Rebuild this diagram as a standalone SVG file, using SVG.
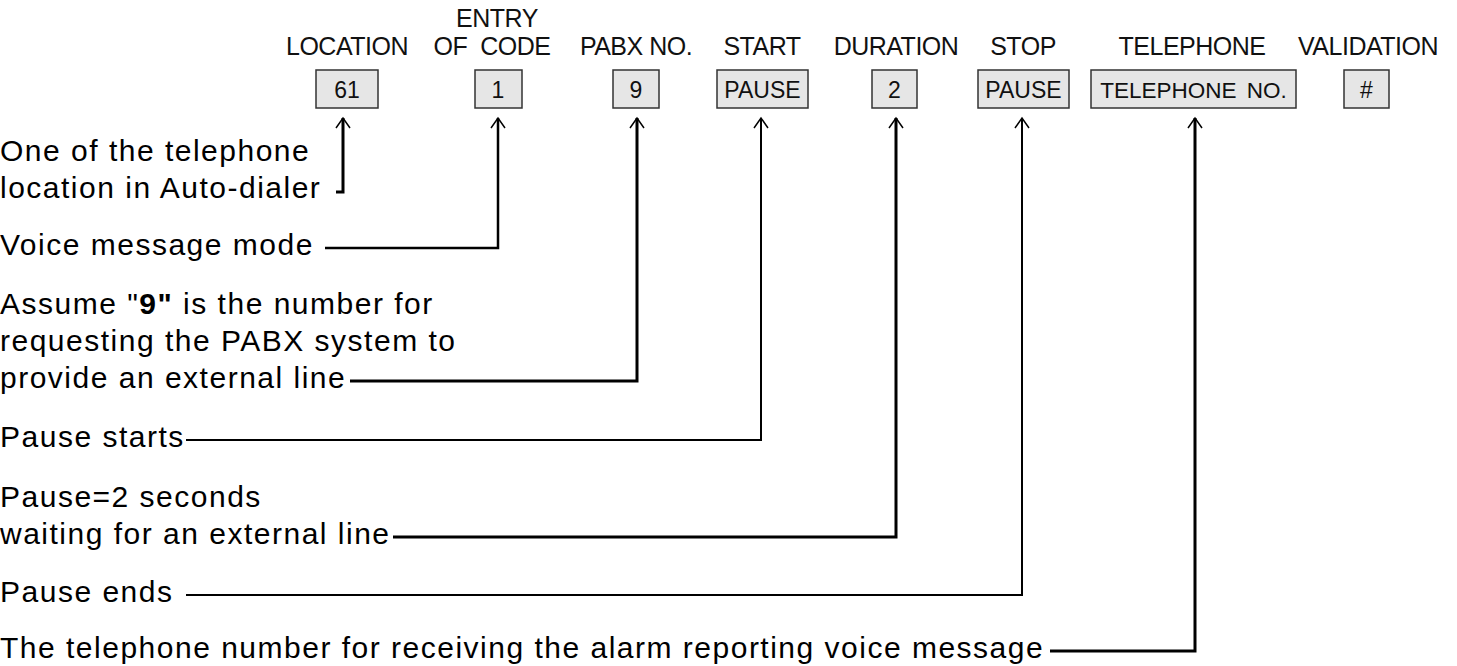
<svg xmlns="http://www.w3.org/2000/svg" width="1457" height="666" viewBox="0 0 1457 666">
<style>
  .hdr { font-family: "Liberation Sans", Arial, sans-serif; font-size: 25px; letter-spacing: -0.5px; fill: #111; text-anchor: middle; }
  .btx { font-family: "Liberation Sans", Arial, sans-serif; font-size: 23px; fill: #111; text-anchor: middle; }
  .box { fill: #e6e6e6; stroke: #333; stroke-width: 1.5; }
  .lbl { font-family: "Liberation Sans", Arial, sans-serif; font-size: 30px; letter-spacing: 1.5px; fill: #000; }
  .con { fill: none; stroke: #000; stroke-linejoin: miter; stroke-linecap: butt; marker-end: url(#arr); }
  .thick { stroke-width: 3; }
  .thin { stroke-width: 2; }
</style>
<defs>
  <marker id="arr" markerUnits="userSpaceOnUse" viewBox="-12 -9 14 18" markerWidth="14" markerHeight="18" refX="0" refY="0" orient="auto" overflow="visible">
    <path d="M-10,-7 L0,0 L-10,7" fill="none" stroke="#000" stroke-width="1.5"/>
  </marker>
</defs>
<rect width="1457" height="666" fill="#fff"/>

<g id="location">
  <text class="hdr" x="347" y="55">LOCATION</text>
  <rect class="box" x="316" y="70" width="62" height="38"/>
  <text class="btx" x="347" y="98">61</text>
</g>
<g id="entry-of-code">
  <text class="hdr" x="497" y="27">ENTRY</text>
  <text class="hdr" x="492" y="55" xml:space="preserve">OF  CODE</text>
  <rect class="box" x="475" y="70" width="47" height="38"/>
  <text class="btx" x="498" y="98">1</text>
</g>
<g id="pabx-no">
  <text class="hdr" x="636" y="55">PABX NO.</text>
  <rect class="box" x="613" y="70" width="46" height="38"/>
  <text class="btx" x="636" y="98">9</text>
</g>
<g id="start">
  <text class="hdr" x="762" y="55">START</text>
  <rect class="box" x="717" y="70" width="91" height="38"/>
  <text class="btx" x="762.5" y="98">PAUSE</text>
</g>
<g id="duration">
  <text class="hdr" x="896" y="55">DURATION</text>
  <rect class="box" x="872" y="70" width="45" height="38"/>
  <text class="btx" x="894.5" y="98">2</text>
</g>
<g id="stop">
  <text class="hdr" x="1023" y="55">STOP</text>
  <rect class="box" x="978" y="70" width="91" height="38"/>
  <text class="btx" x="1023.5" y="98">PAUSE</text>
</g>
<g id="telephone">
  <text class="hdr" x="1192" y="55">TELEPHONE</text>
  <rect class="box" x="1091" y="70" width="205" height="38"/>
  <text class="btx" x="1193.5" y="98" style="font-size:22.5px; word-spacing:4px">TELEPHONE NO.</text>
</g>
<g id="validation">
  <text class="hdr" x="1368" y="55">VALIDATION</text>
  <rect class="box" x="1344" y="70" width="45" height="38"/>
  <text class="btx" x="1366.5" y="98">#</text>
</g>

<g id="labels">
  <text class="lbl" x="0" y="161">One of the telephone</text>
  <text class="lbl" x="0" y="198">location in Auto-dialer</text>
  <text class="lbl" x="0" y="255">Voice message mode</text>
  <text class="lbl" x="0" y="314">Assume "<tspan font-weight="bold">9"</tspan> is the number for</text>
  <text class="lbl" x="0" y="351">requesting the PABX system to</text>
  <text class="lbl" x="0" y="388">provide an external line</text>
  <text class="lbl" x="0" y="447">Pause starts</text>
  <text class="lbl" x="0" y="507">Pause=2 seconds</text>
  <text class="lbl" x="0" y="544">waiting for an external line</text>
  <text class="lbl" x="0" y="602">Pause ends</text>
  <text class="lbl" x="0" y="658">The telephone number for receiving the alarm reporting voice message</text>
</g>

<g id="connectors">
  <path class="con thick" d="M336,192 H343 V118"/>
  <path class="con thick" d="M325,248 H498 V118" style="stroke-width:2.5"/>
  <path class="con thick" d="M350,381 H637 V118"/>
  <path class="con thin" d="M186,440 H761 V118"/>
  <path class="con thick" d="M393,537 H896 V118"/>
  <path class="con thin" d="M186,595 H1022 V118"/>
  <path class="con thick" d="M1050,651 H1195 V118"/>
</g>
</svg>
